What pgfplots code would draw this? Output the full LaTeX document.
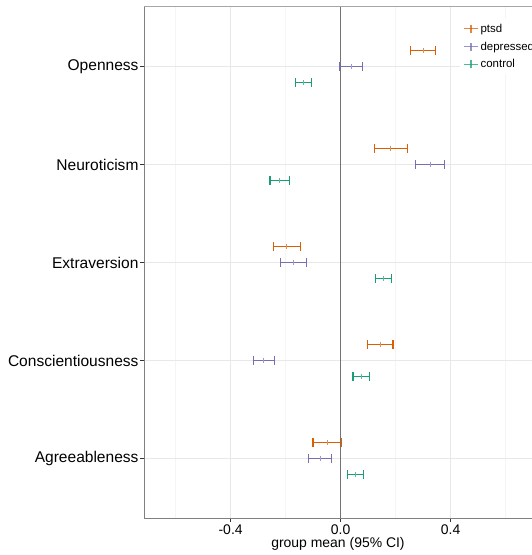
\documentclass[border=0pt]{standalone}
\usepackage{fontspec}
\setmainfont{Liberation Sans}
\usepackage{pgfplots}
\pgfplotsset{compat=1.18}
\definecolor{ptsdc}{HTML}{D95F02}
\definecolor{depc}{HTML}{7570B3}
\definecolor{ctrlc}{HTML}{1B9E77}
\pgfplotsset{
  ci/.style={#1, line width=1.3bp, mark=|, mark size=4.2bp,
    mark options={solid, line width=1.3bp}},
  mean/.style={#1!70!white, only marks, mark=|, mark size=2.8bp,
    mark options={line width=1bp}, forget plot},
}
\begin{document}
\begin{tikzpicture}
\begin{axis}[
  name=ax,
  scale only axis,
  width=388bp, height=512bp,
  xmin=-0.715, xmax=0.696,
  ymin=0.39286, ymax=5.61735,
  axis x line*=bottom, axis y line*=left,
  axis line style={black!50, line width=0.8bp},
  xtick={-0.4,0,0.4}, xticklabels={-0.4,0.0,0.4},
  minor xtick={-0.6,-0.2,0.2,0.6},
  ytick={1,2,3,4,5},
  yticklabels={Agreeableness,Conscientiousness,Extraversion,Neuroticism,Openness},
  tick align=outside, major tick length=3.5bp, minor tick length=0pt,
  tick style={black!80, line width=0.7bp},
  xmajorgrids, ymajorgrids, xminorgrids,
  major grid style={black!9, line width=0.9bp},
  minor grid style={black!4, line width=0.6bp},
  xticklabel style={font=\fontsize{14}{16}\selectfont},
  yticklabel style={font=\fontsize{15.6}{18}\selectfont, xshift=1.5bp},
  xlabel={group mean (95\% CI)},
  xlabel style={font=\fontsize{14}{16}\selectfont, yshift=4bp},
  legend style={at={(0.815,0.975)}, anchor=north west, draw=none, fill=white,
    font=\fontsize{11.5}{13}\selectfont, row sep=4bp, inner sep=3bp},
  legend cell align=left,
  legend image code/.code={
    \draw[#1, line width=1.2bp, opacity=0.75, mark=none] (0bp,0bp) -- (14bp,0bp);
    \draw[#1, line width=1.2bp, opacity=0.75, mark=none] (7bp,-4bp) -- (7bp,4bp);},
  clip=false,
]
\addplot[black!55, line width=0.9bp, forget plot] coordinates {(0,0.39286) (0,5.61735)};
% 95% CI ends
\addplot[ci=ptsdc] table {
x y
0.254 5.163265
0.346 5.163265

0.124 4.163265
0.242 4.163265

-0.245 3.163265
-0.147 3.163265

0.097 2.163265
0.191 2.163265

-0.100 1.163265
0.002 1.163265
};
\addplot[ci=depc] table {
x y
-0.003 5
0.079 5

0.273 4
0.379 4

-0.219 3
-0.123 3

-0.317 2
-0.241 2

-0.116 1
-0.032 1
};
\addplot[ci=ctrlc] table {
x y
-0.165 4.836735
-0.105 4.836735

-0.257 3.836735
-0.187 3.836735

0.126 2.836735
0.184 2.836735

0.045 1.836735
0.105 1.836735

0.024 0.836735
0.084 0.836735
};
\legend{ptsd,depressed,control}
% group means
\addplot[mean=ptsdc] coordinates {(0.300,5.163265) (0.183,4.163265) (-0.196,3.163265) (0.144,2.163265) (-0.049,1.163265)};
\addplot[mean=depc] coordinates {(0.038,5) (0.326,4) (-0.171,3) (-0.279,2) (-0.074,1)};
\addplot[mean=ctrlc] coordinates {(-0.135,4.836735) (-0.222,3.836735) (0.155,2.836735) (0.075,1.836735) (0.054,0.836735)};
\draw[black!35, line width=0.8bp] (rel axis cs:0,1) -- (rel axis cs:1,1);
\end{axis}
\pgfresetboundingbox
\path ([xshift=-144bp,yshift=-37bp]ax.south west) rectangle ([yshift=6bp]ax.north east);
\end{tikzpicture}
\end{document}
